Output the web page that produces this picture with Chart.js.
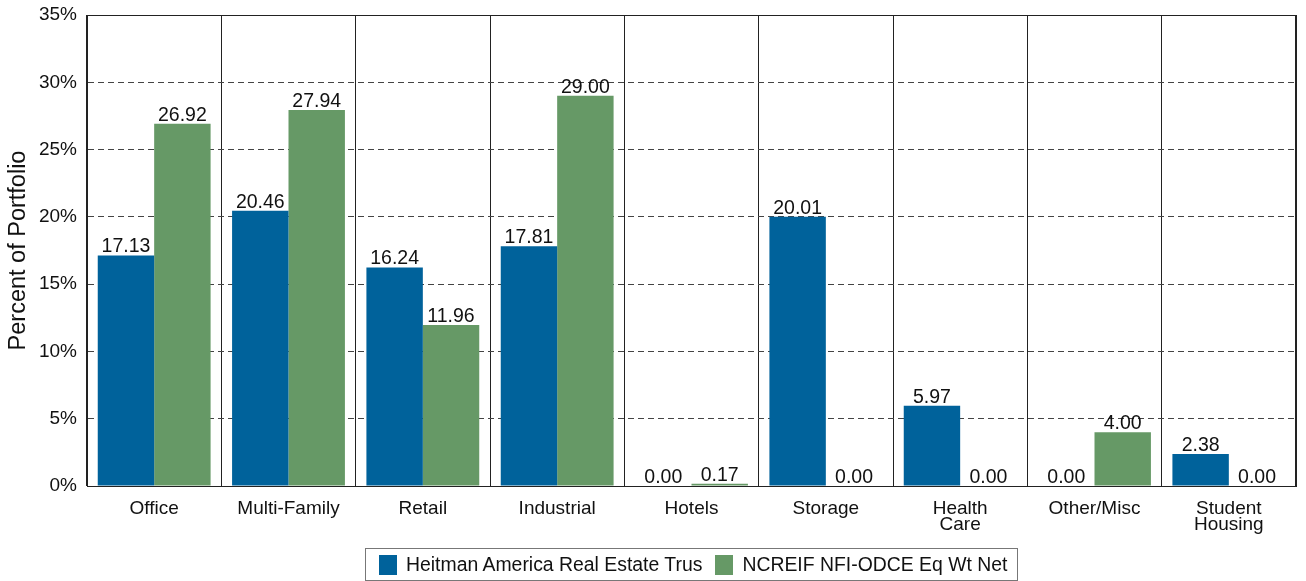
<!DOCTYPE html>
<html>
<head>
<meta charset="utf-8">
<script src="https://cdn.jsdelivr.net/npm/chart.js@4.4.1/dist/chart.umd.min.js"></script>
<style>
  body { margin: 0; background: #fff; font-family: "Liberation Sans", Arial, sans-serif; }
  #wrap { position: relative; width: 1306px; height: 581px; }
  #legend {
    position: absolute; left: 365px; top: 548px; width: 651px; height: 31px;
    border: 1px solid #777; display: flex; align-items: center; font-size: 19.4px; color: #111;
  }
  .sw { display: inline-block; width: 18px; height: 20px; margin: 0 9px 0 13px; }
</style>
</head>
<body>
<div id="wrap">
  <canvas id="chart" width="1306" height="581"></canvas>
  <div id="legend"></div>
</div>
<script>
const categories = ['Office', 'Multi-Family', 'Retail', 'Industrial', 'Hotels', 'Storage', ['Health', 'Care'], 'Other/Misc', ['Student', 'Housing']];
const heitman = [17.13, 20.46, 16.24, 17.81, 0.00, 20.01, 5.97, 0.00, 2.38];
const ncreif = [26.92, 27.94, 11.96, 29.00, 0.17, 0.00, 0.00, 4.00, 0.00];
const seriesNames = ['Heitman America Real Estate Trus', 'NCREIF NFI-ODCE Eq Wt Net'];
const seriesColors = ['#00629b', '#669966'];
const yTicks = [0, 5, 10, 15, 20, 25, 30, 35];

const font = '"Liberation Sans", Arial, sans-serif';

// value labels above each bar
const barLabels = {
  id: 'barLabels',
  afterDatasetsDraw(chart) {
    const ctx = chart.ctx;
    ctx.save();
    ctx.font = '19.5px ' + font;
    ctx.fillStyle = '#111';
    ctx.textAlign = 'center';
    ctx.textBaseline = 'alphabetic';
    chart.data.datasets.forEach((ds, i) => {
      chart.getDatasetMeta(i).data.forEach((bar, j) => {
        ctx.fillText(ds.data[j].toFixed(2), bar.x, bar.y - 3);
      });
    });
    ctx.restore();
  }
};

// solid frame round the plot
const frame = {
  id: 'frame',
  afterDraw(chart) {
    const a = chart.chartArea;
    const ctx = chart.ctx;
    ctx.save();
    ctx.strokeStyle = '#222';
    ctx.lineWidth = 1;
    ctx.strokeRect(a.left + 0.5, a.top + 0.5, a.right - a.left - 1, a.bottom - a.top);
    ctx.restore();
  }
};

new Chart(document.getElementById('chart'), {
  type: 'bar',
  data: {
    labels: categories,
    datasets: [
      { label: seriesNames[0], data: heitman, backgroundColor: seriesColors[0] },
      { label: seriesNames[1], data: ncreif, backgroundColor: seriesColors[1] }
    ]
  },
  options: {
    responsive: false,
    animation: false,
    datasets: { bar: { categoryPercentage: 0.84, barPercentage: 1.0 } },
    layout: { padding: { top: 15, right: 10, bottom: 35, left: 0 } },
    plugins: { legend: { display: false }, tooltip: { enabled: false } },
    scales: {
      x: {
        grid: { color: '#222', offset: true, drawTicks: false },
        border: { color: '#222' },
        ticks: { color: '#111', font: { family: font, size: 19, lineHeight: 0.82 }, padding: 15, maxRotation: 0 },
        afterFit: s => { s.height = 60; }
      },
      y: {
        min: 0, max: 35,
        afterBuildTicks: s => { s.ticks = yTicks.map(v => ({ value: v })); },
        grid: { color: '#444', drawTicks: false },
        border: { color: '#222', dash: [6, 4] },
        ticks: { color: '#111', font: { family: font, size: 19, lineHeight: 0.5 }, padding: 10, callback: v => v + '%' },
        title: { display: true, text: 'Percent of Portfolio', color: '#111', font: { family: font, size: 23.5 }, padding: { bottom: 2 } },
        afterFit: s => { s.width = 87; }
      }
    }
  },
  plugins: [barLabels, frame]
});

const legend = document.getElementById('legend');
seriesNames.forEach((name, i) => {
  const sw = document.createElement('span');
  sw.className = 'sw';
  sw.style.background = seriesColors[i];
  legend.appendChild(sw);
  legend.appendChild(document.createTextNode(name));
});
</script>
</body>
</html>
